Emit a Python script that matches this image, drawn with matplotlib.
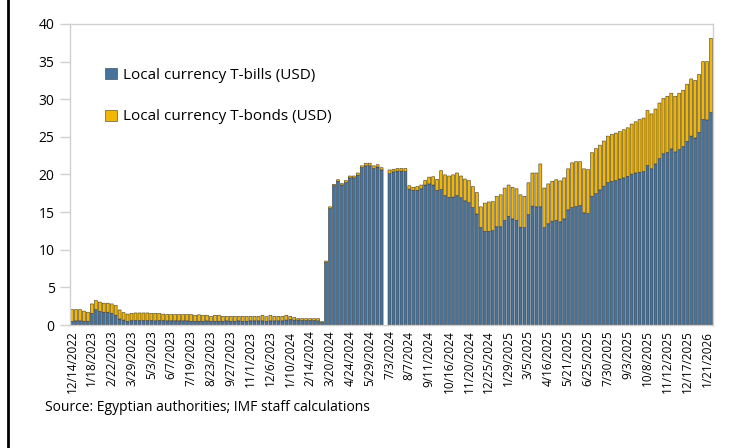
import numpy as np
import pandas as pd
import matplotlib
matplotlib.use('Agg')
import matplotlib.pyplot as plt
from matplotlib.lines import Line2D

plt.rcParams['font.family'] = ['Open Sans', 'DejaVu Sans']

# Weekly auction dates (two holiday weeks have no observation slot)
weeks = pd.date_range('2022-12-14', '2026-01-28', freq='7D')
weeks = weeks[~weeks.isin(pd.to_datetime(['2023-06-28', '2025-04-02']))]
week_labels = [f'{d.month}/{d.day}/{d.year}' for d in weeks]

# Outstanding holdings, USD billions (None = no data that week)
tbills = [
    0.5, 0.55, 0.55, 0.5, 0.5, 1.55, 2.05, 1.8, 1.7, 1.7,
    1.55, 1.3, 0.8, 0.65, 0.5, 0.6, 0.6, 0.6, 0.6, 0.6,
    0.6, 0.55, 0.6, 0.6, 0.55, 0.55, 0.55, 0.55, 0.55, 0.55,
    0.5, 0.5, 0.5, 0.5, 0.55, 0.5, 0.5, 0.5, 0.5, 0.55,
    0.5, 0.5, 0.55, 0.5, 0.5, 0.55, 0.55, 0.55, 0.55, 0.5,
    0.55, 0.55, 0.55, 0.55, 0.65, 0.7, 0.65, 0.65, 0.6, 0.6,
    0.6, 0.6, 0.55, 0.3, 8.3, 15.45, 18.5, 19.1, 18.6, 18.95,
    19.55, 19.55, 19.9, 20.9, 21.15, 21.15, 20.8, 21.0, 20.6, None,
    20.1, 20.35, 20.45, 20.45, 20.4, 18.05, 17.9, 17.9, 18.1, 18.6,
    18.75, 18.6, 17.9, 18.0, 17.2, 16.95, 17.0, 17.2, 16.9, 16.5,
    16.25, 15.6, 14.75, 12.95, 12.45, 12.45, 12.55, 13.05, 13.05, 13.9,
    14.45, 14.1, 13.9, 13.0, 12.95, 14.65, 15.8, 15.7, 15.7, 12.95,
    13.45, 13.8, 13.9, 13.7, 14.1, 15.3, 15.6, 15.75, 15.85, 14.9,
    14.8, 17.1, 17.45, 17.95, 18.45, 18.95, 19.1, 19.2, 19.4, 19.55,
    19.75, 20.05, 20.2, 20.3, 20.4, 21.2, 20.75, 21.4, 22.1, 22.75,
    22.9, 23.4, 23.0, 23.3, 23.7, 24.4, 25.1, 24.85, 25.6, 27.3,
    27.25, 28.25,
]
tbonds = [
    1.55, 1.5, 1.5, 1.35, 1.2, 1.25, 1.2, 1.25, 1.2, 1.2,
    1.25, 1.3, 1.2, 1.0, 0.95, 0.95, 1.0, 1.0, 1.0, 1.0,
    0.95, 1.0, 0.95, 0.85, 0.85, 0.85, 0.85, 0.85, 0.85, 0.85,
    0.9, 0.8, 0.85, 0.8, 0.75, 0.65, 0.8, 0.8, 0.65, 0.6,
    0.65, 0.65, 0.6, 0.65, 0.65, 0.6, 0.6, 0.6, 0.75, 0.6,
    0.75, 0.6, 0.6, 0.6, 0.65, 0.45, 0.35, 0.2, 0.25, 0.25,
    0.25, 0.25, 0.3, 0.15, 0.2, 0.25, 0.2, 0.2, 0.2, 0.25,
    0.25, 0.25, 0.3, 0.25, 0.35, 0.35, 0.35, 0.3, 0.3, None,
    0.5, 0.35, 0.35, 0.35, 0.4, 0.45, 0.4, 0.5, 0.5, 0.6,
    0.9, 1.1, 1.45, 2.5, 2.75, 2.85, 2.95, 3.0, 2.9, 2.9,
    2.95, 2.8, 2.85, 2.75, 3.75, 3.9, 3.85, 4.05, 4.25, 4.3,
    4.15, 4.2, 4.2, 4.3, 4.15, 4.25, 4.4, 4.5, 5.7, 5.25,
    5.3, 5.3, 5.4, 5.45, 5.45, 5.45, 5.95, 5.95, 5.85, 5.85,
    5.85, 5.8, 6.0, 5.95, 6.0, 6.15, 6.25, 6.3, 6.3, 6.4,
    6.45, 6.65, 6.8, 7.0, 7.1, 7.3, 7.3, 7.3, 7.4, 7.35,
    7.5, 7.4, 7.4, 7.5, 7.5, 7.6, 7.6, 7.65, 7.7, 7.7,
    7.75, 9.85,
]

bills = np.array(tbills, dtype=float)
bonds = np.array(tbonds, dtype=float)
x = np.arange(len(week_labels))

blue = '#44739e'
gold = '#f2b705'
edge = '#3a3a3a'
grey = '#d0d0d0'

fig = plt.figure(figsize=(7.38, 4.48), dpi=100)
ax = fig.add_axes([70 / 738, 1 - 325 / 448, 643 / 738, 301 / 448])

ax.bar(x, bills, width=0.75, color=blue, edgecolor=edge, linewidth=0.4,
       snap=False, label='Local currency T-bills (USD)')
ax.bar(x, bonds, width=0.75, bottom=bills, color=gold, edgecolor=edge,
       linewidth=0.4, snap=False, label='Local currency T-bonds (USD)')

ax.set_xlim(-0.5, len(x) - 0.5)
ax.set_ylim(0, 40)
ax.set_yticks(range(0, 41, 5))
ax.set_xticks(x[::5])
ax.set_xticklabels(week_labels[::5], rotation=90, fontsize=8.5)

for s in ax.spines.values():
    s.set_color(grey)
    s.set_linewidth(1)
ax.tick_params(axis='y', length=7, width=1, color=grey, pad=4, labelsize=10)
ax.tick_params(axis='x', length=0, pad=4)

ax.legend(loc='upper left', bbox_to_anchor=(0.045, 0.875), frameon=False,
          fontsize=11, labelspacing=1.75, handlelength=0.75,
          handleheight=0.75, handletextpad=0.4, borderaxespad=0)

fig.text(45 / 738, 1 - 407 / 448, 'Source: Egyptian authorities; IMF staff calculations',
         fontsize=10, va='center', ha='left')

# dark frame edge on the left side of the figure
fig.add_artist(Line2D([7.5 / 738, 7.5 / 738], [0, 1], color='black',
                      linewidth=2, transform=fig.transFigure))

fig.savefig('out.png', dpi=100)
